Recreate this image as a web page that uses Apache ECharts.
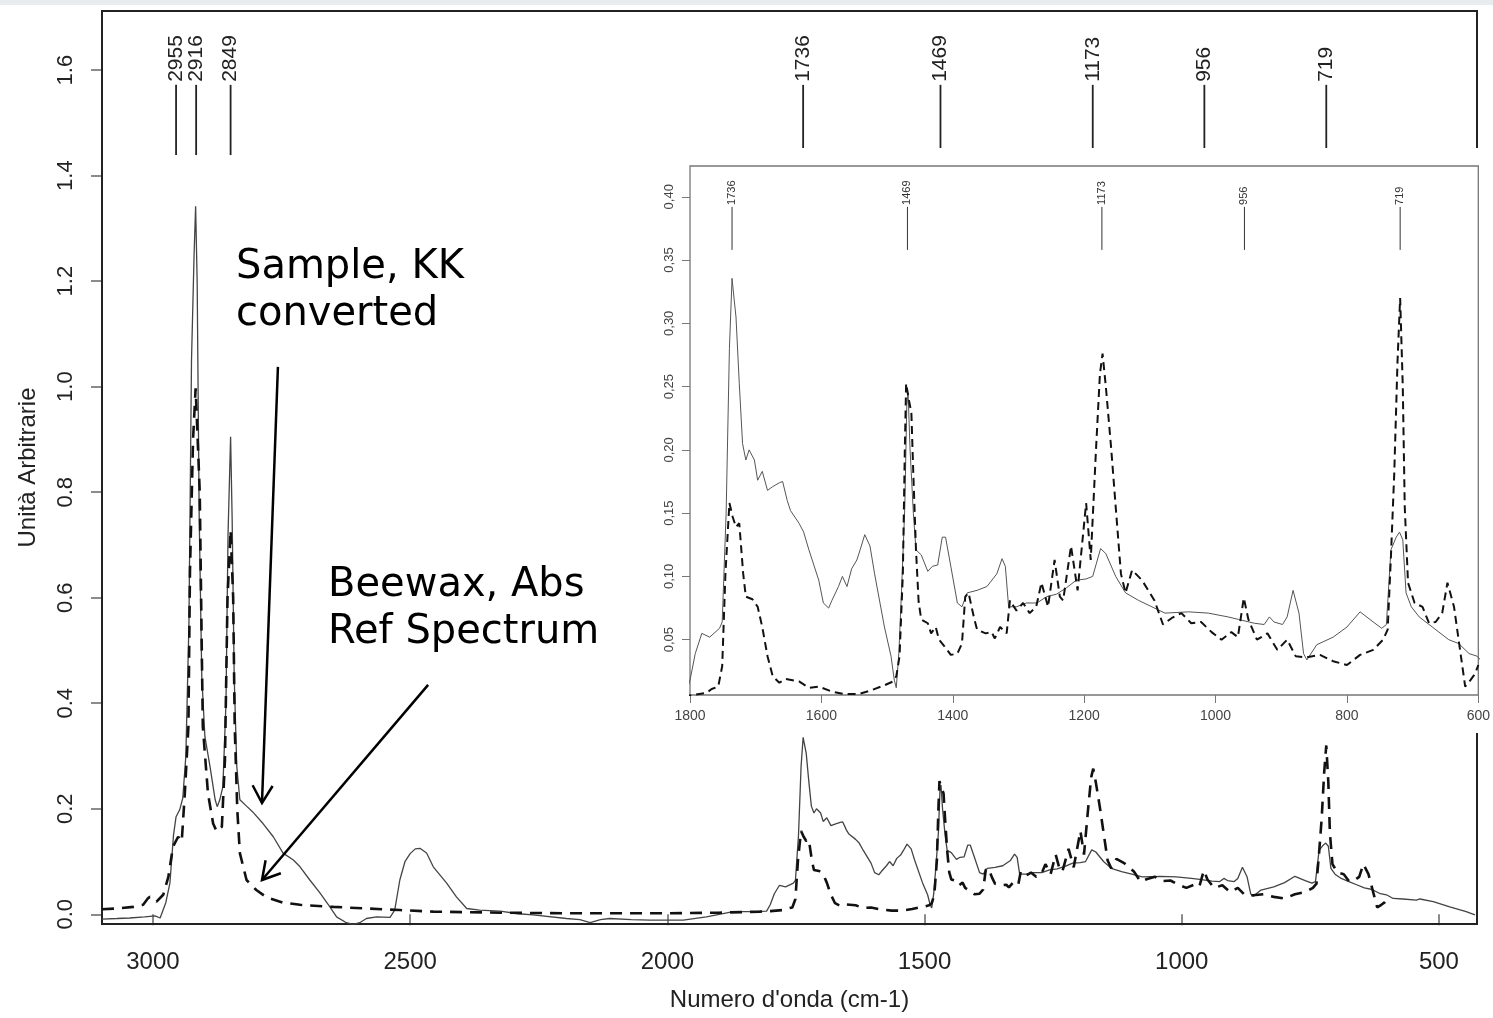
<!DOCTYPE html>
<html><head><meta charset="utf-8">
<script src="https://cdn.jsdelivr.net/npm/echarts@6/dist/echarts.min.js"></script>
<style>html,body{margin:0;padding:0;background:#fff;}#c{width:1493px;height:1018px;}</style>
</head><body><div id="c"></div>
<script>
// ---- Sample, KK converted (solid line) ----
const sampleWn = [3099,3070,3045,3016,2996,2986,2975,2967,2960,2955,2948,2942,2936,2930,2925,2920,2917,2914,2910,2905,2899,2889,2879,2875,2870,2864,2858,2854,2849,2846,2842,2837,2831,2818,2806,2786,2766,2747,2727,2714,2695,2675,2656,2643,2624,2611,2598,2585,2565,2539,2530,2520,2510,2500,2490,2481,2468,2455,2429,2410,2390,2365,2325,2290,2261,2196,2170,2150,2130,2112,2070,2034,1969,1924,1872,1830,1807,
1800,1792,1782,1770,1755,1751,1745,1740,1736,1733,1730,1725,1720,1715,1710,1702,1697,1690,1682,1674,1664,1659,1652,1647,1634,1627,1619,1604,1597,1589,1584,1574,1568,1561,1554,1546,1541,1534,1526,1519,1504,1494,1489,1486,1482,1478,1473,1470,1468,1465,1460,1456,1448,1438,1431,1423,1416,1411,1403,1393,1386,1378,1363,1348,1333,1325,1320,1315,1303,1288,1272,1257,1242,1227,1212,1197,1187,1175,1167,1152,1137,1117,1097,1077,1041,1011,981,965,941,926,918,911,898,891,882,873,866,861,846,821,800,780,760,747,740,733,725,720,715,710,702,690,675,660,645,630,614,602,
589,570,544,537,511,479,447,430];
const sampleAbs = [-0.009,-0.008,-0.007,-0.005,-0.003,-0.007,0.022,0.059,0.150,0.185,0.198,0.220,0.300,0.550,1.050,1.250,1.342,1.200,0.750,0.450,0.337,0.280,0.217,0.204,0.217,0.242,0.400,0.720,0.905,0.750,0.450,0.280,0.217,0.205,0.194,0.172,0.147,0.116,0.103,0.090,0.065,0.040,0.014,-0.005,-0.016,-0.019,-0.016,-0.008,-0.005,-0.006,0.008,0.065,0.100,0.115,0.124,0.125,0.116,0.090,0.059,0.033,0.011,0.008,0.006,0.001,-0.001,-0.008,-0.010,-0.016,-0.010,-0.008,-0.010,-0.011,-0.011,-0.005,0.005,0.005,0.006,
0.018,0.039,0.055,0.052,0.059,0.064,0.150,0.280,0.3355,0.320,0.305,0.2525,0.205,0.192,0.200,0.192,0.176,0.183,0.168,0.171,0.174,0.175,0.160,0.152,0.142,0.135,0.121,0.097,0.079,0.075,0.081,0.092,0.100,0.092,0.106,0.113,0.121,0.133,0.124,0.102,0.060,0.037,0.018,0.012,0.040,0.089,0.155,0.235,0.245,0.200,0.150,0.121,0.117,0.104,0.108,0.109,0.131,0.131,0.108,0.079,0.076,0.087,0.089,0.092,0.102,0.114,0.108,0.076,0.076,0.079,0.079,0.084,0.086,0.091,0.097,0.098,0.100,0.122,0.118,0.100,0.087,0.081,0.076,0.071,0.072,0.071,0.068,0.066,0.063,0.062,0.068,0.064,0.062,0.068,0.089,0.071,0.039,0.034,0.046,0.052,0.060,0.072,0.064,0.059,0.062,0.121,0.131,0.135,0.129,0.087,0.076,0.068,0.062,0.056,0.050,0.047,0.039,0.037,
0.030,0.029,0.027,0.029,0.024,0.014,0.005,-0.001];

// ---- Beewax, Abs Ref Spectrum (dashed line) ----
const waxWn = [3099,3071,3038,3019,3010,3006,2993,2980,2970,2961,2951,2944,2938,2931,2928,2922,2917,2913,2909,2905,2903,2893,2883,2876,2866,2860,2855,2849,2844,2841,2836,2831,2818,2799,2779,2747,2714,2649,2585,2520,2455,2325,2200,2100,2000,1900,1820,1800,
1775,1767,1757,1751,1746,1740,1735,1730,1725,1719,1715,1705,1697,1690,1682,1674,1664,1654,1634,1619,1604,1584,1564,1544,1524,1504,1491,1486,1481,1476,1473,1471,1467,1463,1460,1456,1452,1448,1438,1433,1426,1421,1413,1403,1393,1386,1381,1376,1368,1363,1350,1341,1336,1328,1318,1313,1303,1293,1283,1273,1265,1255,1245,1237,1232,1220,1210,1197,1190,1182,1176,1172,1167,1159,1152,1144,1137,1127,1112,1100,1093,1080,1067,1052,1037,1022,1006,991,976,966,957,950,937,921,906,891,878,861,841,821,800,780,760,745,738,733,728,723,719,715,712,707,697,685,675,665,655,647,637,630,620,612,605,600];
const waxAbs = [0.0095,0.011,0.014,0.018,0.030,0.033,0.024,0.037,0.071,0.128,0.147,0.138,0.229,0.356,0.650,0.900,0.997,0.900,0.800,0.500,0.356,0.229,0.172,0.157,0.166,0.292,0.600,0.728,0.600,0.356,0.198,0.116,0.065,0.046,0.032,0.022,0.018,0.014,0.011,0.008,0.005,0.003,0.002,0.002,0.002,0.003,0.005,0.006,
0.008,0.011,0.013,0.029,0.103,0.158,0.147,0.139,0.142,0.102,0.084,0.082,0.076,0.060,0.037,0.021,0.016,0.019,0.017,0.012,0.013,0.009,0.007,0.007,0.010,0.014,0.017,0.021,0.037,0.102,0.200,0.2525,0.240,0.229,0.180,0.121,0.080,0.066,0.063,0.055,0.060,0.050,0.045,0.038,0.039,0.047,0.084,0.087,0.068,0.058,0.055,0.056,0.051,0.060,0.055,0.081,0.073,0.079,0.071,0.076,0.095,0.076,0.113,0.084,0.081,0.124,0.089,0.158,0.113,0.200,0.260,0.276,0.250,0.202,0.155,0.102,0.087,0.105,0.097,0.087,0.081,0.062,0.067,0.071,0.063,0.064,0.056,0.050,0.056,0.052,0.083,0.066,0.050,0.055,0.042,0.050,0.037,0.036,0.038,0.033,0.030,0.038,0.042,0.050,0.058,0.116,0.181,0.270,0.320,0.250,0.155,0.095,0.079,0.076,0.063,0.064,0.071,0.095,0.076,0.050,0.013,0.018,0.023,0.030];

// ---- ticks and peak labels ----
const mainXTicks = [500,1000,1500,2000,2500,3000];
const mainYTicks = [0,0.2,0.4,0.6,0.8,1.0,1.2,1.4,1.6];
const insetYTicks = [0.05,0.10,0.15,0.20,0.25,0.30,0.35,0.40];
const mainPeaks = [2955,2916,2849,1736,1469,1173,956,719];
const insetPeaks = [1736,1469,1173,956,719];

const sampleData = sampleWn.map((w,i)=>[w,sampleAbs[i]]);
const waxData = waxWn.map((w,i)=>[w,waxAbs[i]]);

const FONT = '"Liberation Sans", Arial, sans-serif';

function peakItem(yLow, yHigh, fontSize, color, lw, gap){
  return function(params, api){
    const x = api.value(0);
    const p0 = api.coord([x, yLow]);
    const p1 = api.coord([x, yHigh]);
    return {type:'group', children:[
      {type:'line', shape:{x1:p0[0],y1:p0[1],x2:p1[0],y2:p1[1]}, style:{stroke:color,lineWidth:lw}},
      {type:'text', x:p1[0], y:p1[1]-gap, rotation:Math.PI/2,
        style:{text:String(x), x:0, y:0, textAlign:'left', textVerticalAlign:'middle',
               font: fontSize+'px '+FONT, fill:color}}
    ]};
  };
}

const chart = echarts.init(document.getElementById('c'), null, {renderer:'canvas'});
chart.setOption({
  animation:false,
  backgroundColor:'#fff',
  grid:[
    {left:102, top:11, width:1375, height:913, show:true, borderColor:'#222', borderWidth:2, backgroundColor:'transparent', z:2},
    {left:690, top:166, width:796, height:529, show:true, borderColor:'#777', borderWidth:1.3, backgroundColor:'transparent', z:6}
  ],
  xAxis:[
    {type:'value', gridIndex:0, inverse:true, min:426, max:3099,
     name:"Numero d'onda (cm-1)", nameLocation:'middle', nameGap:64,
     nameTextStyle:{fontFamily:FONT, fontSize:24, color:'#222'},
     axisLine:{show:false}, splitLine:{show:false},
     axisTick:{show:true, customValues:mainXTicks, length:11, lineStyle:{color:'#666', width:1.5}},
     axisLabel:{customValues:mainXTicks, margin:26, fontFamily:FONT, fontSize:24, color:'#222',
       formatter:v=>String(v)}},
    {type:'value', gridIndex:1, inverse:true, min:600, max:1800, interval:200, z:6,
     axisLine:{show:false}, splitLine:{show:false},
     axisTick:{show:true, length:8, lineStyle:{color:'#777'}},
     axisLabel:{margin:14, fontFamily:FONT, fontSize:14, color:'#444', showMinLabel:true, showMaxLabel:true,
       formatter:v=>String(v)}}
  ],
  yAxis:[
    {type:'value', gridIndex:0, min:-0.0184, max:1.712,
     name:'Unità Arbitrarie', nameLocation:'middle', nameGap:62,
     nameTextStyle:{fontFamily:FONT, fontSize:24, color:'#222'},
     axisLine:{show:false}, splitLine:{show:false},
     axisTick:{show:true, customValues:mainYTicks, length:11, lineStyle:{color:'#666', width:1.5}},
     axisLabel:{customValues:mainYTicks, rotate:90, margin:25, fontFamily:FONT, fontSize:22, color:'#222',
       formatter:v=>v.toFixed(1)}},
    {type:'value', gridIndex:1, min:0.0063, max:0.4243, z:6,
     axisLine:{show:false}, splitLine:{show:false},
     axisTick:{show:true, customValues:insetYTicks, length:8, lineStyle:{color:'#777'}},
     axisLabel:{customValues:insetYTicks, rotate:90, margin:14, fontFamily:FONT, fontSize:13, color:'#444',
       formatter:v=>v.toFixed(2).replace('.',',')}}
  ],
  series:[
    {type:'line', xAxisIndex:0, yAxisIndex:0, data:sampleData, showSymbol:false, symbol:'none', z:2,
     lineStyle:{color:'#444', width:1.3}},
    {type:'line', xAxisIndex:0, yAxisIndex:0, data:waxData, showSymbol:false, symbol:'none', z:3,
     lineStyle:{color:'#111', width:2.6, type:[12,8]}},
    {type:'custom', xAxisIndex:0, yAxisIndex:0, data:mainPeaks.map(p=>[p,1.5]), z:3, silent:true,
     renderItem:peakItem(1.439, 1.572, 21, '#222', 1.8, 3)},
    {type:'line', xAxisIndex:1, yAxisIndex:1, data:sampleData, showSymbol:false, symbol:'none', z:7,
     lineStyle:{color:'#555', width:1}},
    {type:'line', xAxisIndex:1, yAxisIndex:1, data:waxData, showSymbol:false, symbol:'none', z:8,
     lineStyle:{color:'#111', width:2, type:[8,5]}},
    {type:'custom', xAxisIndex:1, yAxisIndex:1, data:insetPeaks.map(p=>[p,0.37]), z:8, silent:true,
     renderItem:peakItem(0.358, 0.392, 11, '#333', 1, 2)}
  ]
});

// annotations: arrows defined in data space, converted to pixels
function arrowEls(from, to){
  const a = chart.convertToPixel({gridIndex:0}, from);
  const b = chart.convertToPixel({gridIndex:0}, to);
  const dx = b[0]-a[0], dy = b[1]-a[1], L = Math.hypot(dx,dy);
  const ux = dx/L, uy = dy/L, h = 20, ang = Math.PI/6;
  const w1 = [b[0]-h*(ux*Math.cos(ang)-uy*Math.sin(ang)), b[1]-h*(uy*Math.cos(ang)+ux*Math.sin(ang))];
  const w2 = [b[0]-h*(ux*Math.cos(-ang)-uy*Math.sin(-ang)), b[1]-h*(uy*Math.cos(-ang)+ux*Math.sin(-ang))];
  return [
    {type:'line', shape:{x1:a[0],y1:a[1],x2:b[0],y2:b[1]}, style:{stroke:'#000', lineWidth:2.5}, z:20},
    {type:'polyline', shape:{points:[w1,b,w2]}, style:{stroke:'#000', fill:null, lineWidth:2.5}, z:20}
  ];
}
const annFont = '40px "DejaVu Sans", Verdana, sans-serif';
chart.setOption({
  graphic:[
    {type:'rect', shape:{x:640, y:148, width:853, height:585}, style:{fill:'#fff'}, z:5, silent:true},
    {type:'rect', shape:{x:0, y:0, width:1493, height:5}, style:{fill:'#e9ecef'}, z:20, silent:true},
    {type:'text', x:236, y:268, style:{text:'Sample, KK', font:annFont, fill:'#000', textVerticalAlign:'middle'}, z:20},
    {type:'text', x:236, y:315, style:{text:'converted', font:annFont, fill:'#000', textVerticalAlign:'middle'}, z:20},
    {type:'text', x:328, y:586, style:{text:'Beewax, Abs', font:annFont, fill:'#000', textVerticalAlign:'middle'}, z:20},
    {type:'text', x:328, y:633, style:{text:'Ref Spectrum', font:annFont, fill:'#000', textVerticalAlign:'middle'}, z:20}
  ].concat(arrowEls([2757,1.0375],[2788,0.211]), arrowEls([2465,0.4347],[2788,0.065]))
});
</script></body></html>
